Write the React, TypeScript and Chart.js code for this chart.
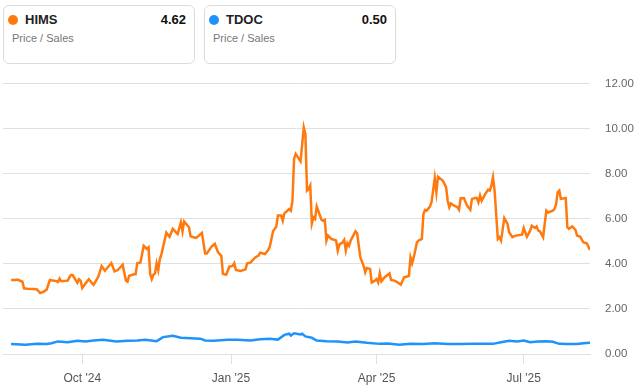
import React, { useEffect, useRef } from "react";
import { Chart, registerables } from "chart.js";

Chart.register(...registerables);

const FONT = "Arial, 'Liberation Sans', Helvetica, sans-serif";

const himsDates = [
  "2024-08-18","2024-08-21","2024-08-22","2024-08-25","2024-08-26","2024-08-28","2024-09-01","2024-09-03","2024-09-05","2024-09-07",
  "2024-09-09","2024-09-11","2024-09-15","2024-09-16","2024-09-17","2024-09-18","2024-09-22","2024-09-23","2024-09-24","2024-09-25",
  "2024-09-28","2024-09-29","2024-09-30","2024-10-01","2024-10-05","2024-10-08","2024-10-11","2024-10-13","2024-10-15","2024-10-19",
  "2024-10-21","2024-10-23","2024-10-26","2024-10-28","2024-10-29","2024-10-30","2024-11-02","2024-11-03","2024-11-04","2024-11-06",
  "2024-11-08","2024-11-10","2024-11-11","2024-11-12","2024-11-13","2024-11-14","2024-11-15","2024-11-16","2024-11-17","2024-11-18",
  "2024-11-19","2024-11-22","2024-11-24","2024-11-26","2024-11-29","2024-12-01","2024-12-02","2024-12-03","2024-12-06","2024-12-07",
  "2024-12-10","2024-12-11","2024-12-14","2024-12-16","2024-12-17","2024-12-20","2024-12-22","2024-12-24","2024-12-26","2024-12-27",
  "2024-12-29","2024-12-31","2025-01-02","2025-01-03","2025-01-04","2025-01-07","2025-01-10","2025-01-11","2025-01-13","2025-01-16",
  "2025-01-18","2025-01-19","2025-01-22","2025-01-24","2025-01-25","2025-01-27","2025-01-29","2025-01-30","2025-02-01","2025-02-02",
  "2025-02-03","2025-02-06","2025-02-07","2025-02-08","2025-02-09","2025-02-10","2025-02-13","2025-02-15","2025-02-16","2025-02-17",
  "2025-02-18","2025-02-19","2025-02-20","2025-02-21","2025-02-22","2025-02-23","2025-02-26","2025-02-27","2025-02-28","2025-03-01",
  "2025-03-02","2025-03-04","2025-03-05","2025-03-07","2025-03-08","2025-03-09","2025-03-11","2025-03-12","2025-03-13","2025-03-14",
  "2025-03-15","2025-03-16","2025-03-19","2025-03-20","2025-03-21","2025-03-22","2025-03-24","2025-03-25","2025-03-26","2025-03-28",
  "2025-03-29","2025-03-31","2025-04-01","2025-04-02","2025-04-03","2025-04-04","2025-04-06","2025-04-09","2025-04-10","2025-04-12",
  "2025-04-14","2025-04-16","2025-04-18","2025-04-20","2025-04-21","2025-04-22","2025-04-23","2025-04-24","2025-04-26","2025-04-27",
  "2025-04-29","2025-04-30","2025-05-01","2025-05-02","2025-05-04","2025-05-05","2025-05-07","2025-05-08","2025-05-09","2025-05-12",
  "2025-05-13","2025-05-14","2025-05-15","2025-05-16","2025-05-17","2025-05-19","2025-05-21","2025-05-22","2025-05-23","2025-05-25",
  "2025-05-27","2025-05-29","2025-05-30","2025-06-01","2025-06-02","2025-06-03","2025-06-04","2025-06-05","2025-06-07","2025-06-09",
  "2025-06-10","2025-06-11","2025-06-12","2025-06-13","2025-06-15","2025-06-16","2025-06-17","2025-06-19","2025-06-21","2025-06-22",
  "2025-06-24","2025-06-26","2025-06-30","2025-07-01","2025-07-03","2025-07-05","2025-07-06","2025-07-08","2025-07-09","2025-07-10",
  "2025-07-11","2025-07-13","2025-07-15","2025-07-16","2025-07-19","2025-07-20","2025-07-21","2025-07-22","2025-07-23","2025-07-24",
  "2025-07-27","2025-07-28","2025-07-29","2025-07-31","2025-08-02","2025-08-03","2025-08-05","2025-08-06","2025-08-07","2025-08-09",
  "2025-08-11",
];

const himsValues = [
  3.29,3.29,3.31,3.21,2.92,2.90,2.89,2.87,2.71,2.76,
  2.86,3.29,3.24,3.20,3.35,3.23,3.26,3.40,3.51,3.51,
  3.16,3.32,3.26,2.93,3.32,3.07,3.44,3.91,3.70,4.04,
  3.67,3.73,3.97,3.26,3.21,3.48,3.54,3.54,4.03,4.07,
  4.81,4.67,4.74,3.56,3.33,3.52,3.58,4.03,3.73,4.22,
  4.44,5.39,5.21,5.56,5.33,5.85,5.45,5.89,5.63,5.23,
  5.16,5.19,5.38,4.47,4.47,4.77,4.89,4.52,4.36,3.56,
  3.52,3.88,3.91,4.03,3.73,3.69,3.76,4.03,4.06,4.29,
  4.37,4.50,4.44,4.62,4.77,5.45,5.66,6.15,6.15,5.92,
  6.25,6.44,6.37,6.81,8.67,8.89,8.56,10.07,9.78,7.26,
  7.33,7.48,5.80,6.07,6.00,6.55,5.96,5.92,5.96,5.04,
  5.26,5.11,5.09,5.04,4.59,4.86,4.96,5.07,4.59,4.92,
  4.81,5.04,5.45,5.36,4.81,4.29,3.92,3.63,3.82,3.78,
  3.18,3.26,3.33,3.18,3.58,3.23,3.41,3.58,3.29,3.26,
  3.18,3.08,3.41,3.44,3.47,4.29,4.03,4.29,4.96,5.04,
  5.11,6.22,6.40,6.37,6.55,6.74,7.82,7.18,7.88,7.70,
  7.56,7.41,6.81,6.52,6.69,6.59,6.52,6.41,6.92,6.93,
  6.59,6.41,6.89,6.93,6.93,6.74,7.04,6.81,7.08,7.30,
  7.26,7.48,7.85,7.26,5.11,5.19,5.04,6.04,5.78,5.41,
  5.19,5.26,5.30,5.60,5.21,5.48,5.70,5.60,5.67,5.48,
  5.45,5.19,6.37,6.29,6.37,6.44,6.64,7.18,7.26,6.89,
  6.93,5.63,5.56,5.67,5.51,5.26,5.21,5.07,4.96,4.92,
  4.62,
];

const tdocDates = [
  "2024-08-18","2024-08-27","2024-09-03","2024-09-09","2024-09-12","2024-09-16","2024-09-22","2024-09-28","2024-10-03","2024-10-08",
  "2024-10-14","2024-10-22","2024-10-29","2024-11-04","2024-11-09","2024-11-16","2024-11-20","2024-11-26","2024-12-01","2024-12-07",
  "2024-12-13","2024-12-16","2024-12-21","2024-12-30","2025-01-05","2025-01-13","2025-01-19","2025-01-25","2025-01-30","2025-02-03",
  "2025-02-06","2025-02-07","2025-02-09","2025-02-13","2025-02-14","2025-02-16","2025-02-20","2025-02-23","2025-03-01","2025-03-08",
  "2025-03-14","2025-03-19","2025-03-26","2025-04-03","2025-04-08","2025-04-15","2025-04-22","2025-04-30","2025-05-07","2025-05-15",
  "2025-05-23","2025-05-31","2025-06-08","2025-06-12","2025-06-17","2025-06-22","2025-06-27","2025-07-01","2025-07-05","2025-07-10",
  "2025-07-15","2025-07-19","2025-07-23","2025-07-28","2025-08-03","2025-08-07","2025-08-11",
];

const tdocValues = [
  0.44,0.41,0.45,0.44,0.48,0.56,0.52,0.59,0.56,0.60,
  0.63,0.56,0.59,0.60,0.63,0.57,0.75,0.81,0.72,0.70,
  0.68,0.60,0.59,0.63,0.63,0.60,0.66,0.68,0.64,0.85,
  0.90,0.82,0.92,0.87,0.90,0.78,0.72,0.60,0.57,0.56,
  0.51,0.56,0.50,0.45,0.47,0.41,0.45,0.44,0.48,0.44,
  0.44,0.45,0.45,0.45,0.52,0.59,0.56,0.60,0.52,0.56,
  0.57,0.54,0.45,0.44,0.44,0.48,0.50,
];

const xTickDates = ["2024-10-01", "2025-01-01", "2025-04-01", "2025-07-01"];
const xTickLabels = ["Oct '24", "Jan '25", "Apr '25", "Jul '25"];
const axisStartDate = "2024-08-13";
const axisEndDate = "2025-08-11";
const yMin = 0;
const yMax = 12;
const yStep = 2;

const legendItems = [
  { name: "HIMS", value: "4.62", metric: "Price / Sales", color: "#ff7a0e" },
  { name: "TDOC", value: "0.50", metric: "Price / Sales", color: "#1e93fb" },
];

const DAY = 86400000;
const ORIGIN = Date.parse("2024-10-01");
const toDay = (s: string) => (Date.parse(s) - ORIGIN) / DAY;

function LegendCard(props: { name: string; value: string; metric: string; color: string; left: number }) {
  return (
    <div
      style={{
        position: "absolute",
        left: props.left,
        top: 5,
        width: 192,
        height: 59,
        border: "1px solid #dcdcdc",
        borderRadius: 6,
        boxSizing: "border-box",
        background: "#fff",
        fontFamily: FONT,
      }}
    >
      <div
        style={{
          position: "absolute",
          left: 4,
          top: 9,
          width: 10,
          height: 10,
          borderRadius: "50%",
          background: props.color,
        }}
      />
      <div
        style={{
          position: "absolute",
          left: 21,
          top: 5,
          fontSize: 13,
          fontWeight: 700,
          color: "#222",
          lineHeight: "18px",
        }}
      >
        {props.name}
      </div>
      <div
        style={{
          position: "absolute",
          right: 8,
          top: 5,
          fontSize: 13,
          fontWeight: 700,
          color: "#111",
          lineHeight: "18px",
        }}
      >
        {props.value}
      </div>
      <div
        style={{
          position: "absolute",
          left: 8,
          top: 24,
          fontSize: 11,
          color: "#777",
          lineHeight: "16px",
        }}
      >
        {props.metric}
      </div>
    </div>
  );
}

export default function App() {
  const canvasRef = useRef<HTMLCanvasElement | null>(null);

  useEffect(() => {
    if (!canvasRef.current) return;
    const gridColor = "#e0e0e0";
    const chart = new Chart(canvasRef.current, {
      type: "line",
      data: {
        datasets: [
          {
            label: "HIMS",
            data: himsDates.map((d, i) => ({ x: toDay(d), y: himsValues[i] })),
            borderColor: legendItems[0].color,
            backgroundColor: legendItems[0].color,
            borderWidth: 2.5,
            pointRadius: 0,
            tension: 0,
          },
          {
            label: "TDOC",
            data: tdocDates.map((d, i) => ({ x: toDay(d), y: tdocValues[i] })),
            borderColor: legendItems[1].color,
            backgroundColor: legendItems[1].color,
            borderWidth: 2.5,
            pointRadius: 0,
            tension: 0,
          },
        ],
      },
      options: {
        animation: false,
        responsive: false,
        devicePixelRatio: 1,
        layout: { padding: { left: 3, right: 2, top: 0, bottom: 5 } },
        plugins: {
          legend: { display: false },
          tooltip: { enabled: false },
        },
        scales: {
          x: {
            type: "linear",
            min: toDay(axisStartDate),
            max: toDay(axisEndDate),
            afterBuildTicks: (scale: any) => {
              scale.ticks = xTickDates.map((d) => ({ value: toDay(d) }));
            },
            afterFit: (scale: any) => {
              scale.height = 31;
            },
            grid: {
              drawOnChartArea: false,
              drawTicks: true,
              tickLength: 10,
              color: gridColor,
            },
            border: { display: true, color: gridColor },
            ticks: {
              autoSkip: false,
              maxRotation: 0,
              padding: 7,
              color: "#555",
              font: { family: FONT, size: 12 },
              callback: (_v: any, i: number) => xTickLabels[i],
            },
          },
          y: {
            position: "right",
            min: yMin,
            max: yMax,
            afterFit: (scale: any) => {
              scale.width = 48;
            },
            grid: { color: gridColor, drawTicks: false },
            border: { display: false },
            ticks: {
              stepSize: yStep,
              padding: 15,
              color: "#666",
              font: { family: FONT, size: 11.5 },
              callback: (v: any) => Number(v).toFixed(2),
            },
          },
        },
      },
    } as any);
    return () => chart.destroy();
  }, []);

  return (
    <div
      style={{
        position: "absolute",
        left: 0,
        top: 0,
        width: 640,
        height: 390,
        background: "#fff",
        overflow: "hidden",
      }}
    >
      <LegendCard {...legendItems[0]} left={3} />
      <LegendCard {...legendItems[1]} left={204} />
      <div style={{ position: "absolute", left: 0, top: 62, width: 640, height: 328 }}>
        <canvas ref={canvasRef} width={640} height={328} style={{ display: "block" }} />
      </div>
    </div>
  );
}
